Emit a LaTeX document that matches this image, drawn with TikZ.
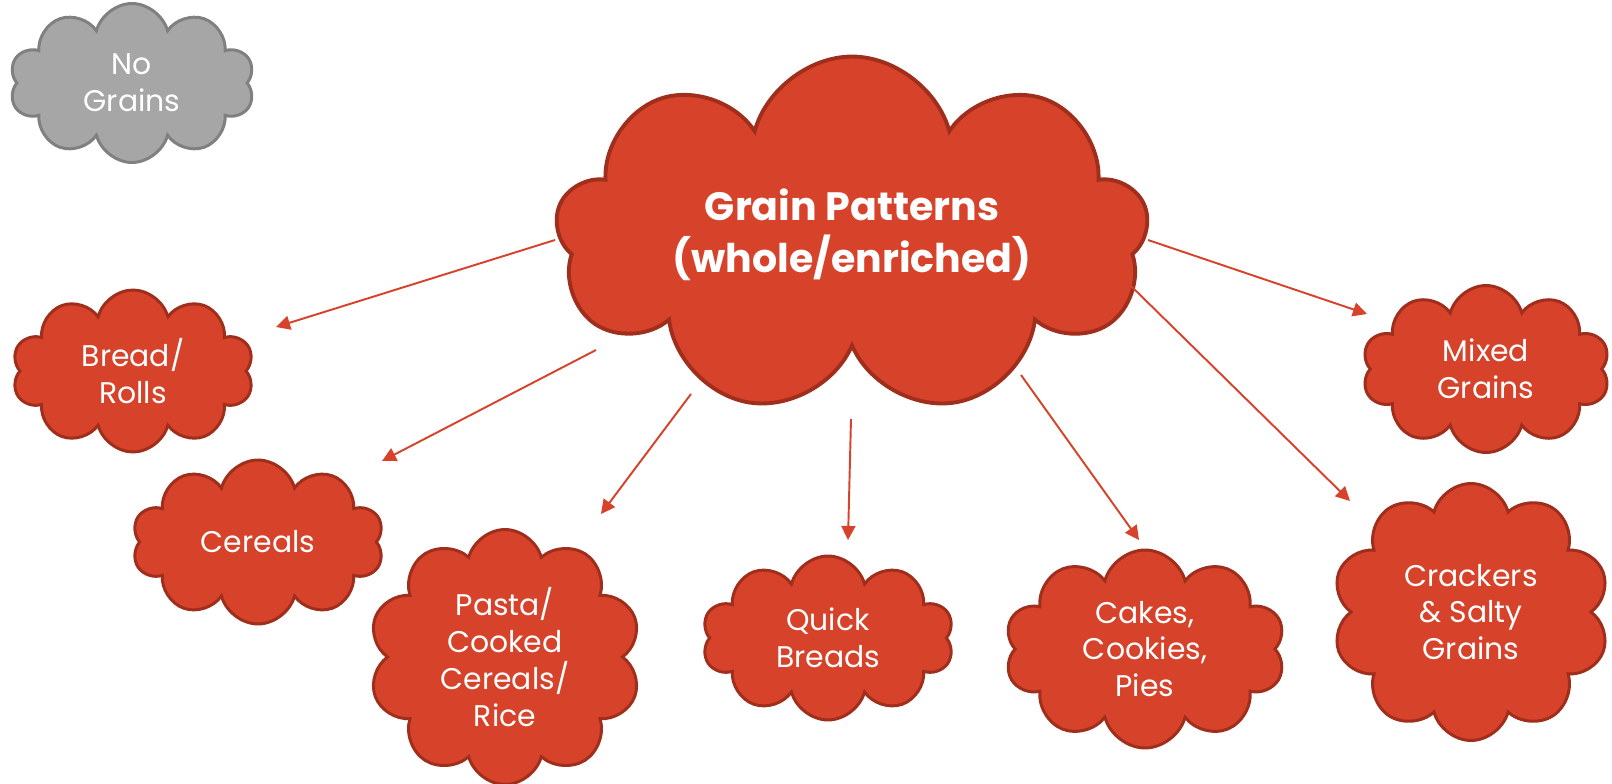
\documentclass[tikz,border=0pt]{standalone}
\usepackage{fontspec}
\setmainfont{Poppins}
\usetikzlibrary{positioning,calc,shapes.symbols,arrows.meta}
\definecolor{grainred}{RGB}{214,66,42}
\definecolor{grainedge}{RGB}{160,46,28}
\definecolor{nogray}{RGB}{166,166,166}
\definecolor{nograyedge}{RGB}{128,128,128}

\begin{document}
\begin{tikzpicture}[x=0.02cm,y=-0.02cm,>={Triangle[length=8pt,width=8pt]},font=\fontsize{17}{21}\selectfont]
	
	\tikzstyle{puff}=[cloud,cloud puffs=10,cloud ignores aspect,draw=grainedge,fill=grainred,line width=1.7pt,text=white,align=center,inner sep=0pt]
	\tikzstyle{link}=[->,draw=grainred,fill=grainred,line width=1.1pt]
	
	\useasboundingbox (0,0) rectangle (1612,784);
	
	\node[puff,draw=nograyedge,fill=nogray,minimum width=4.9cm,minimum height=3.18cm] (none) at (132,83) {No\\Grains};
	\node[puff,cloud puffs=9,line width=2.2pt,minimum width=11.86cm,minimum height=7.14cm,font=\bfseries\fontsize{22.5}{29.5}\selectfont] (main) at (852,235) {Grain Patterns\\(whole/enriched)};
	
	\node[puff,minimum width=4.84cm,minimum height=3.24cm] (bread) at (133,371) {Bread/\\Rolls};
	\node[puff,minimum width=5.04cm,minimum height=3.28cm] (cereals) at (258,542) {Cereals};
	\node[puff,minimum width=5.46cm,minimum height=5.1cm] (pasta) at (505,657) {Pasta/\\Cooked\\Cereals/\\Rice};
	\node[puff,minimum width=5.04cm,minimum height=3.28cm] (quick) at (828,638) {Quick\\Breads};
	\node[puff,minimum width=5.62cm,minimum height=3.96cm] (cakes) at (1145,649) {Cakes,\\Cookies,\\Pies};
	\node[puff,minimum width=5.56cm,minimum height=5.14cm] (crackers) at (1471,612) {Crackers\\\& Salty\\Grains};
	\node[puff,minimum width=4.96cm,minimum height=3.34cm] (mixed) at (1486,369) {Mixed\\Grains};
	
	\coordinate (tipBread) at ($(bread)+(143,-44)$);
	\coordinate (tipCereals) at ($(cereals)+(124,-81)$);
	\coordinate (tipPasta) at ($(pasta)+(96,-143)$);
	\coordinate (tipQuick) at ($(quick)+(20,-98)$);
	\coordinate (tipCakes) at ($(cakes)+(-6,-109)$);
	\coordinate (tipCrackers) at ($(crackers)+(-121,-111)$);
	\coordinate (tipMixed) at ($(mixed)+(-119,-55)$);
	
	\draw[link] ($(main)+(-297,5)$) -- (tipBread);
	\draw[link] ($(main)+(-256,115)$) -- (tipCereals);
	\draw[link] ($(main)+(-161,159)$) -- (tipPasta);
	\draw[link] ($(main)+(-1,184)$) -- (tipQuick);
	\draw[link] ($(main)+(169,140)$) -- (tipCakes);
	\draw[link] ($(main)+(279,51)$) -- (tipCrackers);
	\draw[link] ($(main)+(296,5)$) -- (tipMixed);
	
\end{tikzpicture}
\end{document}
